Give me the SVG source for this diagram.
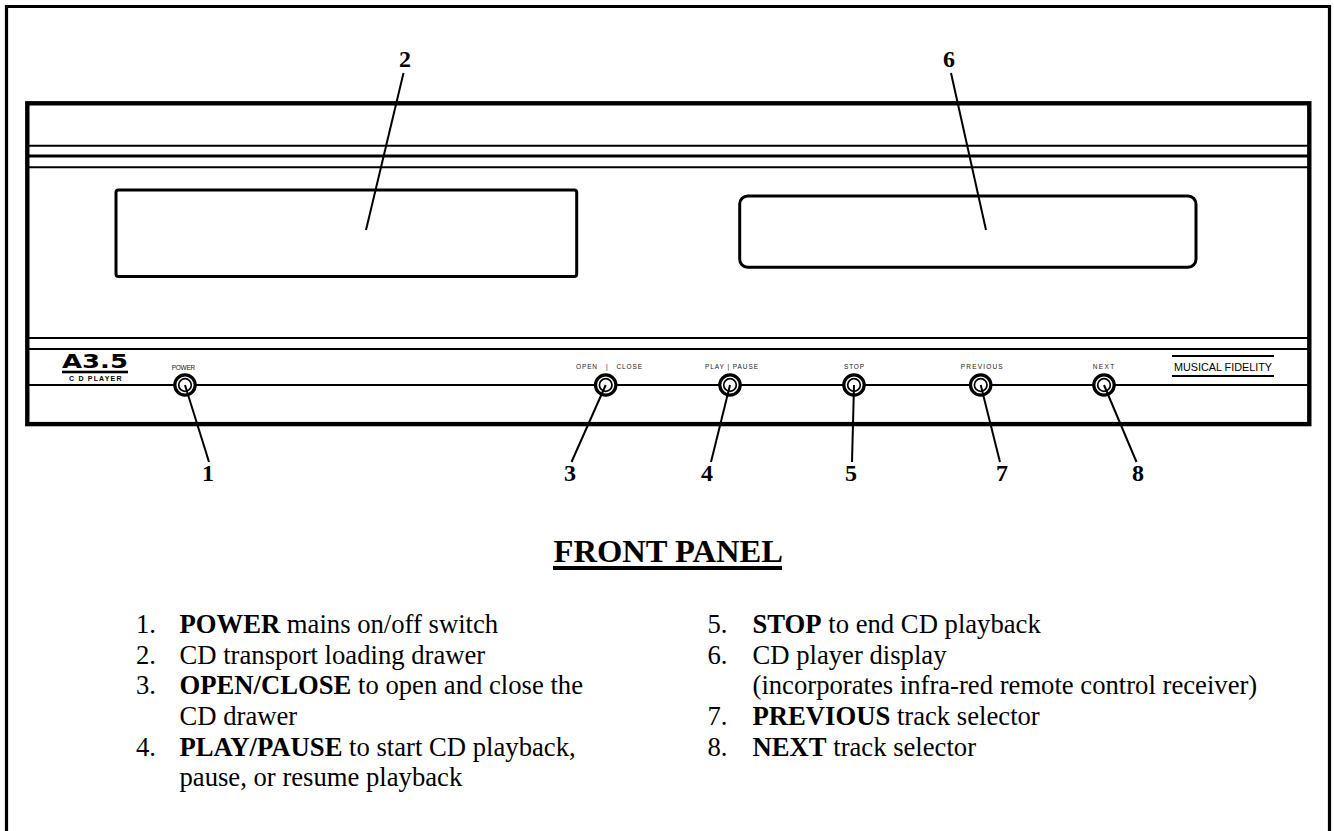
<svg xmlns="http://www.w3.org/2000/svg" width="1334" height="831" viewBox="0 0 1334 831">
<style>
.ln{fill:none;stroke:#000;stroke-width:2}
.th{fill:none;stroke:#000;stroke-width:3}
.ld{fill:none;stroke:#000;stroke-width:2}
.s{font-family:"Liberation Serif","Times New Roman",serif;fill:#000}
.num{font-size:24px;font-weight:700;text-anchor:middle}
.li{font-size:26.67px}
.lab{font-family:"Liberation Sans",Arial,sans-serif;font-size:6.5px;fill:#222}
.k1{fill:#fff;stroke:#000;stroke-width:3.2}
.k2{fill:none;stroke:#000;stroke-width:1.7}
.b{font-weight:700}
</style>
<defs>
<g id="knob"><circle r="10.2" class="k1"/><circle r="6.3" class="k2"/></g>
</defs>
<rect width="1334" height="831" fill="#fff"/>
<path id="frame" d="M6.500 831V6.500H1329.500V831" fill="none" stroke="#000" stroke-width="3.200"/>
<g id="panel">
<rect x="27.300" y="103.300" width="1282" height="320.800" fill="none" stroke="#000" stroke-width="4.400"/>
<path class="ln" d="M28 145.700H1308M28 167.300H1308M28 338H1308M28 349H1308M28 385H1308"/>
<path class="th" d="M28 156H1308"/>
<rect x="116" y="190" width="460.700" height="86.500" rx="2.500" class="th"/>
<rect x="739.700" y="196" width="456.300" height="71.200" rx="8" class="th"/>
</g>
<g id="logo">
<text x="62" y="367.500" font-family="'DejaVu Sans',sans-serif" font-weight="700" font-size="20" textLength="66" lengthAdjust="spacingAndGlyphs" fill="#000">A3.5</text>
<rect x="62" y="370.700" width="66" height="2.600"/>
<text x="69" y="380.500" font-family="'Liberation Sans',sans-serif" font-weight="700" font-size="7" textLength="52.500" lengthAdjust="spacing" fill="#000">C D PLAYER</text>
</g>
<g id="brand">
<rect x="1172" y="355" width="102" height="2"/>
<rect x="1172" y="375" width="102" height="2"/>
<text x="1174" y="370.700" font-family="'Liberation Sans',sans-serif" font-size="11" textLength="98" lengthAdjust="spacingAndGlyphs" fill="#000">MUSICAL FIDELITY</text>
</g>
<g id="node-1"><use href="#knob" x="185" y="385"/><text class="lab" x="171.700" y="370" textLength="23.500">POWER</text><text class="s num" x="208" y="481">1</text></g>
<g id="node-2"><text class="s num" x="405" y="67">2</text></g>
<g id="node-3"><use href="#knob" x="605.700" y="385"/><text class="lab" x="576" y="368.500" textLength="66" xml:space="preserve">OPEN   |   CLOSE</text><text class="s num" x="570" y="481">3</text></g>
<g id="node-4"><use href="#knob" x="730" y="385"/><text class="lab" x="705" y="368.500" textLength="53">PLAY | PAUSE</text><text class="s num" x="707" y="481">4</text></g>
<g id="node-5"><use href="#knob" x="854" y="385"/><text class="lab" x="844" y="368.500" textLength="20">STOP</text><text class="s num" x="851" y="481">5</text></g>
<g id="node-6"><text class="s num" x="949" y="67">6</text></g>
<g id="node-7"><use href="#knob" x="980.700" y="385"/><text class="lab" x="960.700" y="368.500" textLength="42">PREVIOUS</text><text class="s num" x="1002" y="481">7</text></g>
<g id="node-8"><use href="#knob" x="1104" y="385"/><text class="lab" x="1092.700" y="368.500" textLength="21.500">NEXT</text><text class="s num" x="1138" y="481">8</text></g>
<g id="connectors">
<path class="ld" d="M403.500 73L366 230"/>
<path class="ld" d="M951 73L986 230"/>
<path class="ld" d="M185 385L209 462"/>
<path class="ld" d="M605.700 385L571.500 462"/>
<path class="ld" d="M730 385L711 462"/>
<path class="ld" d="M854 385L852 462"/>
<path class="ld" d="M980.700 385L1000 462"/>
<path class="ld" d="M1104 385L1136.500 462"/>
</g>
<g id="title"><text class="s" x="553.500" y="562" font-size="32.600" font-weight="700">FRONT PANEL</text><rect x="553" y="566" width="229" height="4"/></g>
<g id="legend">
<text x="136" y="633" class="s li">1.</text><text x="179.500" y="633" class="s li"><tspan class="b">POWER</tspan> mains on/off switch</text>
<text x="136" y="663.700" class="s li">2.</text><text x="179.500" y="663.700" class="s li">CD transport loading drawer</text>
<text x="136" y="694.300" class="s li">3.</text><text x="179.500" y="694.300" class="s li"><tspan class="b">OPEN/CLOSE</tspan> to open and close the</text>
<text x="179.500" y="725" class="s li">CD drawer</text>
<text x="136" y="755.700" class="s li">4.</text><text x="179.500" y="755.700" class="s li"><tspan class="b">PLAY/PAUSE</tspan> to start CD playback,</text>
<text x="179.500" y="786.400" class="s li">pause, or resume playback</text>
<text x="707.500" y="633" class="s li">5.</text><text x="752.500" y="633" class="s li"><tspan class="b">STOP</tspan> to end CD playback</text>
<text x="707.500" y="663.700" class="s li">6.</text><text x="752.500" y="663.700" class="s li">CD player display</text>
<text x="752.500" y="694.300" class="s li">(incorporates infra-red remote control receiver)</text>
<text x="707.500" y="725" class="s li">7.</text><text x="752.500" y="725" class="s li"><tspan class="b">PREVIOUS</tspan> track selector</text>
<text x="707.500" y="755.700" class="s li">8.</text><text x="752.500" y="755.700" class="s li"><tspan class="b">NEXT</tspan> track selector</text>
</g>
</svg>
